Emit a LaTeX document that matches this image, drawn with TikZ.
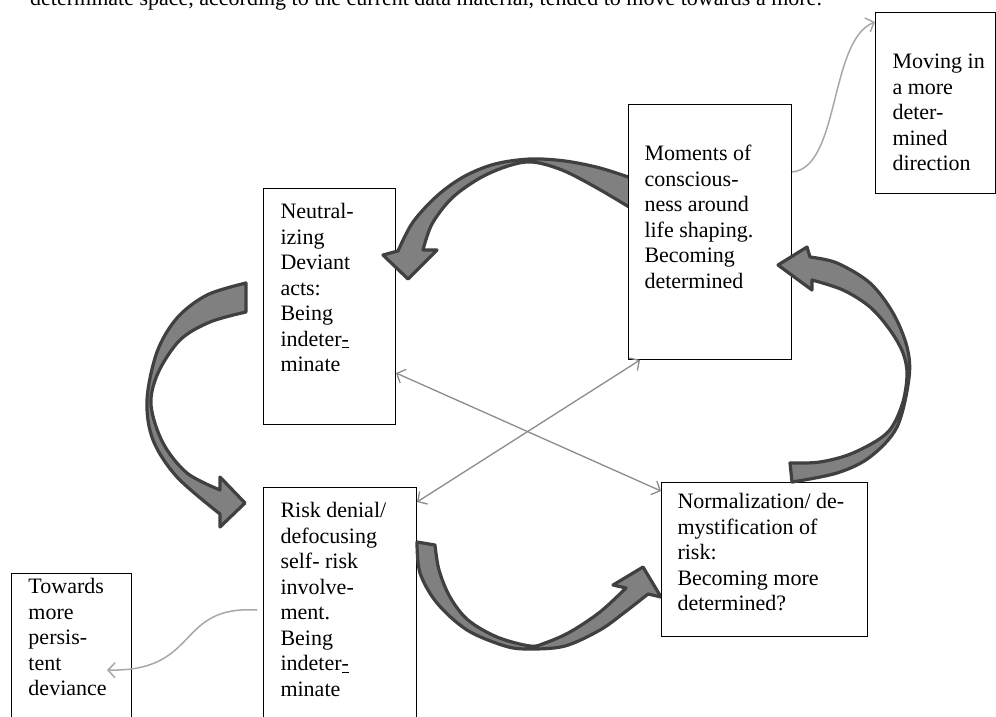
\documentclass[tikz,border=0pt]{standalone}
\usepackage{fontspec}
\setmainfont{Liberation Serif}
\usetikzlibrary{arrows.meta,calc}
\definecolor{bandfill}{HTML}{808080}
\definecolor{bandline}{HTML}{404040}
\definecolor{crossgray}{HTML}{8C8C8C}
\definecolor{curvegray}{HTML}{A8A8A8}
\newcommand{\boxtxt}[4]{\parbox[t][#2][t]{#1}{\leftskip=#3\relax\rightskip=0pt plus 1fil\fontsize{22}{25.5}\selectfont#4}}
\tikzset{
  textbox/.style={draw=black, line width=1pt, fill=white, inner sep=0pt, anchor=north west},
  bandshape/.style={fill=bandfill, draw=bandline, line width=3.2pt, line join=round},
  crossarrow/.style={draw=crossgray, line width=1.3pt, {Straight Barb[length=7pt,width=15pt]}-{Straight Barb[length=7pt,width=15pt]}},
  curvearrow/.style={draw=curvegray, line width=1.5pt, -{Straight Barb[length=7pt,width=15pt]}}
}
\begin{document}
\begin{tikzpicture}[x=1pt,y=-1pt]
\useasboundingbox (0,0) rectangle (996,716);
\fill[white] (0,0) rectangle (996,716);
\clip (0,0) rectangle (996,716);

% cropped line of running text at the top
\node[anchor=base west, inner sep=0pt, font=\fontsize{22}{25}\selectfont] (toptext) at (30,5)
  {determinate space, according to the current data material, tended to move towards a more.};

% boxes drawn before the arrows that lie over them
\node[textbox] (N) at (263,188) {\boxtxt{132pt}{236pt}{17pt}{\rule{0pt}{30pt}Neutral-\\izing\\Deviant\\acts:\\Being\\indeter\underline{-}\\minate}};
\node[textbox] (R) at (263,487) {\boxtxt{153pt}{240pt}{17pt}{\rule{0pt}{30pt}Risk denial/\\defocusing\\self- risk\\involve-\\ment.\\Being\\indeter\underline{-}\\minate}};
\node[textbox] (T) at (11,573) {\boxtxt{120pt}{200pt}{17pt}{\rule{0pt}{20pt}Towards\\more\\persis-\\tent\\deviance}};
\node[textbox] (D) at (875,12) {\boxtxt{120pt}{181pt}{17pt}{\rule{0pt}{56pt}Moving in\\a more\\deter-\\mined\\direction}};

% top curved arrow (M -> N)
\filldraw[bandshape] plot[smooth, tension=0.55] coordinates {(634,179) (600,168) (565,161) (530,159) (495,164) (465,176) (438,195) (413,222) (398,251)}
  -- (383,255) -- (408,279) -- (437,250) -- (423,250)
  -- plot[smooth, tension=0.55] coordinates {(423,250) (432,224) (452,198) (480,178) (508,166) (532,162) (562,170) (597,188) (634,210)} -- cycle;

% left curved arrow (N -> R)
\filldraw[bandshape] plot[smooth, tension=0.55] coordinates {(246,283) (207,295) (177,318) (157,352) (147,400) (153,440) (177,477) (220,514)}
  -- (220,527) -- (245,503) -- (220,477) -- (220,490)
  -- plot[smooth, tension=0.55] coordinates {(220,490) (187,473) (163,443) (151,405) (158,373) (180,340) (210,322) (246,312)} -- cycle;

% bottom curved arrow (R -> Nm)
\filldraw[bandshape] plot[smooth, tension=0.55] coordinates {(417,542) (420,573) (437,603) (467,630) (505,646) (530,649) (565,646) (600,630) (625,612) (648,594)}
  -- (661,597) -- (643,567) -- (613,585) -- (626,588)
  -- plot[smooth, tension=0.55] coordinates {(626,588) (600,612) (570,632) (545,643) (530,646) (497,637) (468,620) (450,597) (439,570) (435,545)} -- cycle;

\node[textbox] (M) at (628,104) {\boxtxt{163pt}{255pt}{16pt}{\rule{0pt}{56pt}Moments of\\conscious-\\ness around\\life shaping.\\Becoming\\determined}};
\node[textbox] (Nm) at (661,482) {\boxtxt{206pt}{154pt}{16pt}{\rule{0pt}{26pt}Normalization/ de-\\mystification of\\risk:\\Becoming more\\determined?}};

% right curved arrow (Nm -> M)
\filldraw[bandshape] plot[smooth, tension=0.55] coordinates {(792,482) (837,473) (870,457) (897,427) (909,378) (907,347) (893,313) (870,283) (837,263) (810,257)}
  -- (807,247) -- (778,265) -- (812,290) -- (812,280)
  -- plot[smooth, tension=0.55] coordinates {(812,280) (843,290) (870,307) (890,330) (903,353) (907,375) (902,405) (887,433) (853,453) (820,462) (790,463)} -- cycle;

% thin grey connectors
\draw[crossarrow] ([yshift=-15pt]R.north east) -- ([xshift=12pt]M.south west);
\draw[crossarrow] ([yshift=52pt]N.south east) -- ([yshift=-9pt]Nm.north west);
\draw[curvearrow] ([yshift=-68pt]M.north east) .. controls +(48,-4) and +(-46,18) .. ([yshift=-10pt]D.north west);
\draw[curvearrow] ([xshift=-6pt,yshift=-123pt]R.north west) .. controls +(-82,-5) and +(94,2) .. ([xshift=-25pt,yshift=-97pt]T.north east);
\end{tikzpicture}
\end{document}
